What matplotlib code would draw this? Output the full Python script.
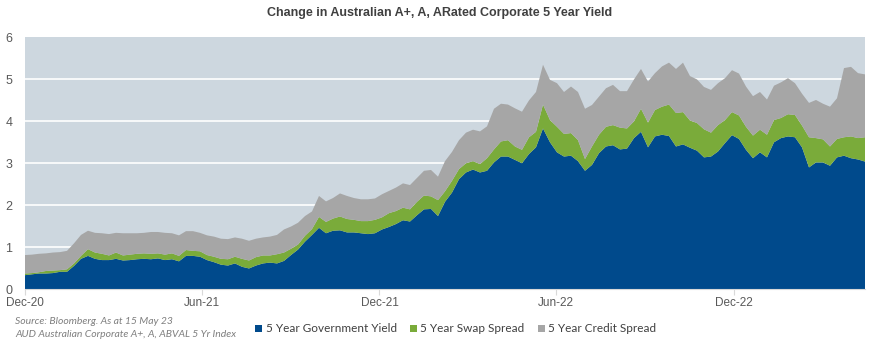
import matplotlib
matplotlib.use("Agg")
from matplotlib import pyplot as plt
import matplotlib.dates as mdates
import numpy as np
import pandas as pd

#%% Data (approx. weekly samples, Dec-20 to mid Apr-23)
start_date = "2020-12-01"
end_date = "2023-04-15"

gov_yield = [0.33, 0.35, 0.37, 0.37, 0.38, 0.41, 0.41, 0.55, 0.72, 0.79,
             0.72, 0.69, 0.69, 0.72, 0.68, 0.69, 0.71, 0.72, 0.71, 0.73,
             0.69, 0.71, 0.66, 0.79, 0.79, 0.77, 0.69, 0.64, 0.58, 0.56,
             0.61, 0.53, 0.49, 0.56, 0.61, 0.63, 0.61, 0.67, 0.81, 0.94,
             1.13, 1.29, 1.46, 1.33, 1.39, 1.40, 1.35, 1.35, 1.33, 1.31,
             1.33, 1.42, 1.48, 1.55, 1.64, 1.61, 1.76, 1.90, 1.91, 1.74,
             2.08, 2.30, 2.62, 2.78, 2.85, 2.78, 2.82, 3.02, 3.16, 3.16,
             3.08, 3.00, 3.22, 3.38, 3.83, 3.50, 3.26, 3.16, 3.18, 3.05,
             2.82, 2.96, 3.24, 3.40, 3.43, 3.33, 3.35, 3.60, 3.75, 3.38,
             3.64, 3.68, 3.65, 3.40, 3.45, 3.37, 3.30, 3.14, 3.16, 3.28,
             3.48, 3.67, 3.58, 3.32, 3.12, 3.26, 3.14, 3.50, 3.60, 3.64,
             3.62, 3.38, 2.90, 3.02, 3.02, 2.94, 3.14, 3.18, 3.12, 3.09,
             3.04]

swap_spread = [0.04, 0.03, 0.03, 0.06, 0.06, 0.04, 0.06, 0.06, 0.07, 0.16,
               0.15, 0.15, 0.11, 0.15, 0.12, 0.13, 0.13, 0.13, 0.13, 0.12,
               0.13, 0.14, 0.13, 0.14, 0.12, 0.13, 0.12, 0.13, 0.14, 0.15,
               0.16, 0.19, 0.19, 0.20, 0.19, 0.17, 0.22, 0.20, 0.15, 0.12,
               0.14, 0.14, 0.26, 0.27, 0.29, 0.33, 0.32, 0.30, 0.29, 0.31,
               0.32, 0.29, 0.33, 0.31, 0.30, 0.29, 0.32, 0.33, 0.30, 0.38,
               0.25, 0.28, 0.24, 0.22, 0.20, 0.20, 0.30, 0.31, 0.36, 0.39,
               0.32, 0.32, 0.40, 0.37, 0.57, 0.53, 0.61, 0.54, 0.54, 0.50,
               0.28, 0.44, 0.44, 0.47, 0.48, 0.52, 0.48, 0.40, 0.55, 0.59,
               0.63, 0.67, 0.75, 0.80, 0.77, 0.65, 0.66, 0.67, 0.57, 0.63,
               0.55, 0.55, 0.56, 0.55, 0.54, 0.54, 0.54, 0.53, 0.48, 0.53,
               0.53, 0.52, 0.72, 0.58, 0.55, 0.46, 0.44, 0.44, 0.52, 0.51,
               0.58]

credit_spread = [0.44, 0.44, 0.44, 0.42, 0.43, 0.43, 0.44, 0.48, 0.50, 0.44,
                 0.47, 0.49, 0.51, 0.47, 0.53, 0.51, 0.49, 0.49, 0.52, 0.51,
                 0.52, 0.48, 0.49, 0.45, 0.47, 0.44, 0.47, 0.48, 0.48, 0.48,
                 0.46, 0.48, 0.47, 0.44, 0.43, 0.45, 0.46, 0.55, 0.53, 0.52,
                 0.47, 0.42, 0.50, 0.49, 0.49, 0.55, 0.55, 0.52, 0.52, 0.52,
                 0.51, 0.55, 0.53, 0.56, 0.58, 0.58, 0.57, 0.59, 0.63, 0.56,
                 0.72, 0.69, 0.69, 0.73, 0.75, 0.78, 0.76, 0.97, 0.90, 0.85,
                 0.91, 0.91, 0.88, 0.95, 0.95, 0.96, 1.04, 1.00, 1.11, 1.15,
                 1.20, 0.99, 0.91, 0.92, 0.96, 0.87, 0.89, 1.00, 0.95, 0.98,
                 0.88, 0.96, 1.00, 1.05, 1.18, 1.06, 1.04, 1.01, 1.02, 1.00,
                 1.00, 1.00, 1.00, 0.96, 0.94, 0.90, 0.84, 0.82, 0.85, 0.86,
                 0.76, 0.76, 0.82, 0.91, 0.85, 0.95, 0.97, 1.65, 1.66, 1.55,
                 1.50]

series_labels = ["5 Year Government Yield", "5 Year Swap Spread", "5 Year Credit Spread"]
series_colors = ["#004A8C", "#7AAB3A", "#A6A6A6"]

dates = pd.date_range(start_date, end_date, periods=len(gov_yield))

#%% Figure
txt_col = "#595959"
narrow = ["Liberation Sans Narrow", "Liberation Sans", "DejaVu Sans"]
fig = plt.figure(figsize=(8.73, 3.46), dpi=100)
ax = fig.add_axes([25/873, 1-289/346, 840/873, (289-37.5)/346])
ax.set_facecolor("#CDD7DF")

stack = ax.stackplot(dates, gov_yield, swap_spread, credit_spread,
                     colors=series_colors, labels=series_labels, linewidth=0)

ax.set_xlim(dates[0], dates[-1])
ax.set_ylim(0, 6)
ax.set_yticks(range(0, 7))
ax.yaxis.grid(True, color="white", linewidth=1.2)
ax.set_axisbelow(True)

ax.xaxis.set_major_locator(mdates.MonthLocator(bymonth=[6, 12]))
ax.xaxis.set_major_formatter(mdates.DateFormatter("%b-%y"))

for s in ["top", "right", "left"]:
    ax.spines[s].set_visible(False)
ax.spines["bottom"].set_color("#D9D9D9")
ax.tick_params(axis="y", length=0, pad=9, labelcolor=txt_col, labelsize=9)
ax.tick_params(axis="x", length=4, color="#D9D9D9", pad=2, labelcolor=txt_col, labelsize=8.5)
for lab in ax.get_xticklabels() + ax.get_yticklabels():
    lab.set_family(narrow)

fig.text(0.504, 0.962, "Change in Australian A+, A, ARated Corporate 5 Year Yield",
         ha="center", va="center", fontsize=9, fontweight="bold", color="#404040",
         family=narrow)

# source notes
note_font = ["Lato", "DejaVu Sans"]
fig.text(15/873, 1-321/346, "Source: Bloomberg. As at 15 May 23", ha="left", va="center",
         fontsize=7.5, style="italic", color="#7F7F7F", family=note_font)
fig.text(15/873, 1-334.5/346, "AUD Australian Corporate A+, A, ABVAL 5 Yr Index", ha="left", va="center",
         fontsize=7.5, style="italic", color="#7F7F7F", family=note_font)

leg = fig.legend(handles=stack, labels=series_labels, ncol=3, loc="center left",
                 bbox_to_anchor=(249/873, 1-329/346), frameon=False, borderpad=0,
                 handlelength=0.6, handleheight=0.6, handletextpad=0.3, columnspacing=1.1,
                 prop={"family": note_font, "size": 8.5})
for t in leg.get_texts():
    t.set_color("#404040")

fig.savefig("out.png", dpi=100)
